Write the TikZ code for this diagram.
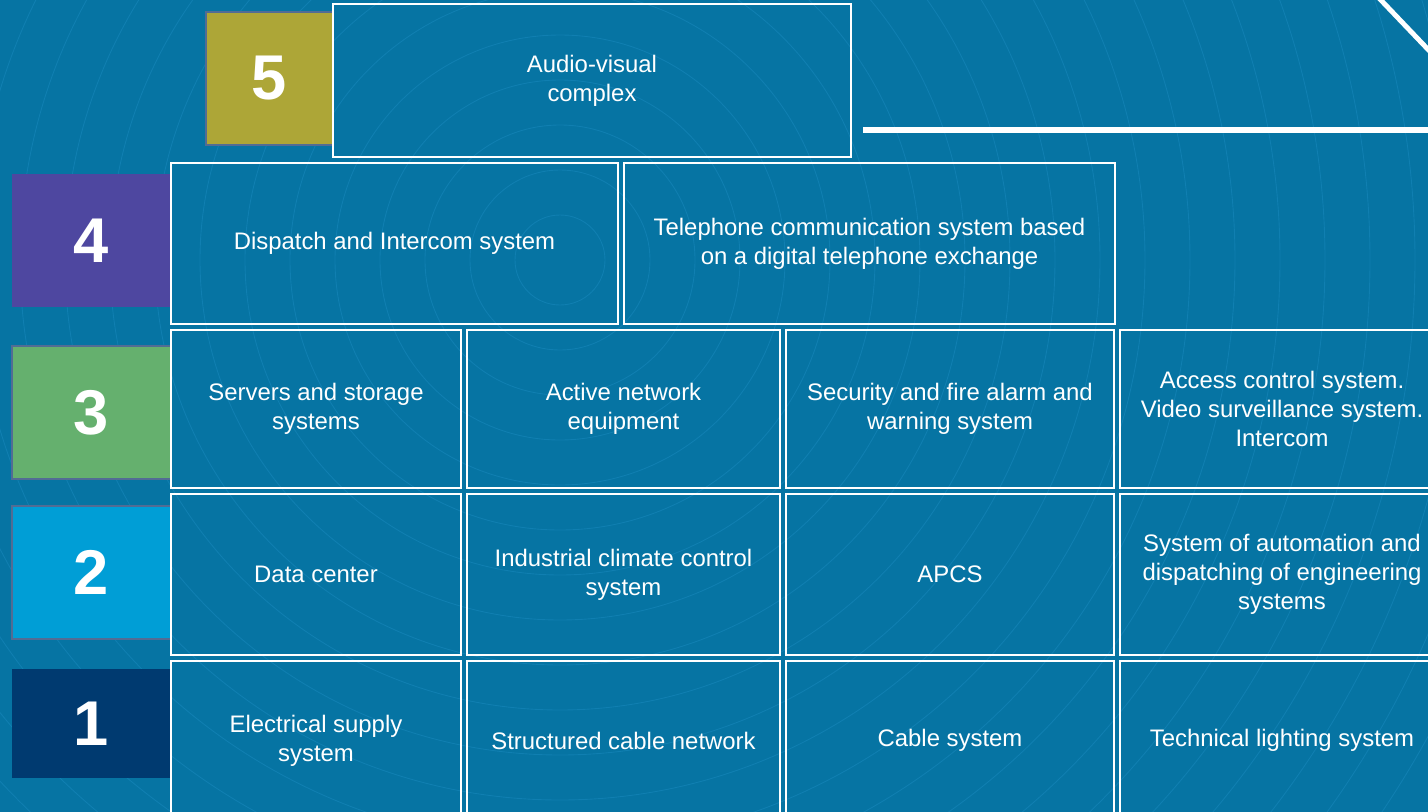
\documentclass[tikz,border=0pt]{standalone}
\usepackage{fontspec}
\setmainfont{Liberation Sans}
\usepackage{tikz}

\definecolor{bgblue}{RGB}{6,116,163}
\definecolor{ringblue}{RGB}{16,127,177}
\definecolor{lvlfive}{RGB}{173,166,55}
\definecolor{lvlfour}{RGB}{78,71,160}
\definecolor{lvlthree}{RGB}{101,176,110}
\definecolor{lvltwo}{RGB}{0,158,214}
\definecolor{lvlone}{RGB}{0,58,112}
\definecolor{lvledge}{RGB}{82,108,148}

\begin{document}
\begin{tikzpicture}[x=0.02cm, y=-0.02cm,
    cell/.style={draw=white, line width=1.2pt, align=center, text=white,
                 inner sep=2pt, font=\fontsize{13.6}{16.4}\selectfont},
    numbox/.style={fill=#1, text=white, inner sep=0pt,
                   font=\fontsize{36}{40}\selectfont\bfseries},
    ring/.style={draw=ringblue, line width=0.5pt}]
  \useasboundingbox (0,0) rectangle (1428,812);
  \fill [bgblue] (0,0) rectangle (1428,812);
  \clip (0,0) rectangle (1428,812);

  % faint rings in the background
  \foreach \r in {45,90,...,1440}
    \draw [ring] (560,260) circle (\r);

  % level numbers
  \node [numbox=lvlfive, draw=lvledge, line width=1.1pt,
         minimum width=2.54cm, minimum height=2.66cm] (n5) at (269.5,78.5) {5};
  \node [numbox=lvlfour, minimum width=3.18cm, minimum height=2.66cm]
        (n4) at (91.5,240.5) {4};
  \node [numbox=lvlthree, draw=lvledge, line width=1.1pt,
         minimum width=3.18cm, minimum height=2.66cm] (n3) at (91.5,412.5) {3};
  \node [numbox=lvltwo, draw=lvledge, line width=1.1pt,
         minimum width=3.18cm, minimum height=2.66cm] (n2) at (91.5,572.5) {2};
  \node [numbox=lvlone, minimum width=3.18cm, minimum height=2.18cm]
        (n1) at (91.5,723.5) {1};

  % level 5
  \node [cell, minimum width=10.36cm, minimum height=3.06cm]
        (av) at (592,80.5) {Audio-visual\\complex};

  % level 4
  \node [cell, minimum width=8.94cm, minimum height=3.22cm]
        (dispatch) at (394.5,243.5) {Dispatch and Intercom system};
  \node [cell, minimum width=9.82cm, minimum height=3.22cm]
        (phone) at (869.5,243.5)
        {Telephone communication system based\\on a digital telephone exchange};

  % level 3
  \node [cell, minimum width=5.8cm, minimum height=3.16cm]
        (servers) at (316,409) {Servers and storage\\systems};
  \node [cell, minimum width=6.26cm, minimum height=3.16cm]
        (active) at (623.5,409) {Active network\\equipment};
  \node [cell, minimum width=6.56cm, minimum height=3.16cm]
        (security) at (950,409) {Security and fire alarm and\\warning system};
  \node [cell, minimum width=6.48cm, minimum height=3.16cm]
        (access) at (1282,409)
        {Access control system.\\Video surveillance system.\\Intercom};

  % level 2
  \node [cell, minimum width=5.8cm, minimum height=3.22cm]
        (datacenter) at (316,574.5) {Data center};
  \node [cell, minimum width=6.26cm, minimum height=3.22cm]
        (climate) at (623.5,574.5) {Industrial climate control\\system};
  \node [cell, minimum width=6.56cm, minimum height=3.22cm]
        (apcs) at (950,574.5) {APCS};
  \node [cell, minimum width=6.48cm, minimum height=3.22cm]
        (automation) at (1282,574.5)
        {System of automation and\\dispatching of engineering\\systems};

  % level 1
  \node [cell, minimum width=5.8cm, minimum height=3.18cm]
        (power) at (316,740.5) {Electrical supply\\system};
  \node [cell, minimum width=6.26cm, minimum height=3.18cm]
        (scn) at (623.5,740.5) {Structured cable network};
  \node [cell, minimum width=6.56cm, minimum height=3.18cm]
        (cables) at (950,740.5) {Cable system};
  \node [cell, minimum width=6.48cm, minimum height=3.18cm]
        (lighting) at (1282,740.5) {Technical lighting system};

  % white strokes, top right
  \coordinate (barL) at (863,130);
  \coordinate (barR) at (1440,130);
  \coordinate (slashT) at (1378,-3);
  \coordinate (slashB) at (1440,62);
  \draw [white, line width=3.4pt] (barL) -- (barR);
  \draw [white, line width=2.8pt] (slashT) -- (slashB);
\end{tikzpicture}
\end{document}
